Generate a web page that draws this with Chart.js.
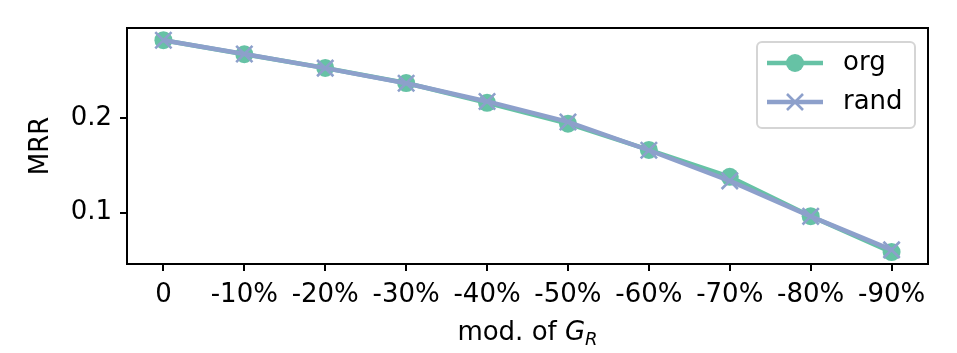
<!DOCTYPE html>
<html>
<head>
<meta charset="utf-8">
<script src="https://cdn.jsdelivr.net/npm/chart.js@4.4.0/dist/chart.umd.min.js"></script>
<style>
    html, body { margin: 0; padding: 0; background: #fff; }
    #wrap { width: 957px; height: 353px; }
</style>
</head>
<body>
<div id="wrap"><canvas id="chart" width="957" height="353"></canvas></div>
<script>
const categories = ['0', '-10%', '-20%', '-30%', '-40%', '-50%', '-60%', '-70%', '-80%', '-90%'];
const orgValues = [0.2826, 0.2677, 0.2532, 0.2372, 0.2163, 0.1942, 0.1663, 0.1379, 0.0961, 0.0581];
const randValues = [0.2826, 0.2680, 0.2530, 0.2370, 0.2177, 0.1960, 0.1660, 0.1336, 0.0960, 0.0605];
const yTickValues = [0.1, 0.2];

const GREEN = '#66c2a5';
const PURPLE = '#8da0cb';
const FONT = "'DejaVu Sans', sans-serif";

function toPoints(values) {
    return values.map((v, i) => ({ x: i, y: v }));
}

// frame, axis titles and an in-plot legend
const decorations = {
    id: 'decorations',
    afterDraw(chart) {
        const ctx = chart.ctx;
        const a = chart.chartArea;
        ctx.save();

        ctx.strokeStyle = '#000';
        ctx.lineWidth = 2;
        ctx.strokeRect(a.left, a.top, a.right - a.left, a.bottom - a.top);

        ctx.fillStyle = '#000';
        ctx.font = '26px ' + FONT;

        // y title
        ctx.save();
        ctx.translate(41, (a.top + a.bottom) / 2);
        ctx.rotate(-Math.PI / 2);
        ctx.textAlign = 'center';
        ctx.textBaseline = 'middle';
        ctx.fillText('MRR', 0, 0);
        ctx.restore();

        // x title: mod. of G_R
        const base = 340;
        const part1 = 'mod. of ';
        ctx.font = '26px ' + FONT;
        const w1 = ctx.measureText(part1).width;
        ctx.font = 'italic 26px ' + FONT;
        const w2 = ctx.measureText('G').width;
        ctx.font = 'italic 18px ' + FONT;
        const w3 = ctx.measureText('R').width;
        let x = (a.left + a.right) / 2 - (w1 + w2 + w3) / 2;
        ctx.textAlign = 'left';
        ctx.textBaseline = 'alphabetic';
        ctx.font = '26px ' + FONT;
        ctx.fillText(part1, x, base);
        x += w1;
        ctx.font = 'italic 26px ' + FONT;
        ctx.fillText('G', x, base);
        x += w2;
        ctx.font = 'italic 18px ' + FONT;
        ctx.fillText('R', x, base + 5);

        // legend
        const lx = 757, ly = 42, lw = 158, lh = 86;
        ctx.beginPath();
        ctx.roundRect(lx, ly, lw, lh, 5);
        ctx.fillStyle = 'rgba(255,255,255,0.8)';
        ctx.fill();
        ctx.strokeStyle = '#d5d5d5';
        ctx.lineWidth = 2;
        ctx.stroke();

        const rows = [
            { label: 'org', color: GREEN, y: 63, style: 'circle' },
            { label: 'rand', color: PURPLE, y: 102, style: 'crossRot' }
        ];
        rows.forEach(r => {
            ctx.strokeStyle = r.color;
            ctx.lineWidth = 4.5;
            ctx.beginPath();
            ctx.moveTo(767, r.y);
            ctx.lineTo(823, r.y);
            ctx.stroke();
            if (r.style === 'circle') {
                ctx.fillStyle = r.color;
                ctx.beginPath();
                ctx.arc(795, r.y, 9, 0, Math.PI * 2);
                ctx.fill();
            } else {
                ctx.lineWidth = 2.6;
                ctx.beginPath();
                ctx.moveTo(787, r.y - 8);
                ctx.lineTo(803, r.y + 8);
                ctx.moveTo(787, r.y + 8);
                ctx.lineTo(803, r.y - 8);
                ctx.stroke();
            }
            ctx.fillStyle = '#000';
            ctx.font = '26px ' + FONT;
            ctx.textAlign = 'left';
            ctx.textBaseline = 'middle';
            ctx.fillText(r.label, 843, r.y);
        });

        ctx.restore();
    }
};

const ctx = document.getElementById('chart').getContext('2d');
new Chart(ctx, {
    type: 'line',
    data: {
        datasets: [
            {
                label: 'org',
                data: toPoints(orgValues),
                borderColor: GREEN,
                backgroundColor: GREEN,
                borderWidth: 4.5,
                pointStyle: 'circle',
                pointRadius: 9,
                pointBorderWidth: 0,
                pointBackgroundColor: GREEN,
                tension: 0,
                order: 2
            },
            {
                label: 'rand',
                data: toPoints(randValues),
                borderColor: PURPLE,
                backgroundColor: PURPLE,
                borderWidth: 4.5,
                pointStyle: 'crossRot',
                pointRadius: 11.5,
                pointBorderWidth: 2.6,
                pointBorderColor: PURPLE,
                tension: 0,
                order: 1
            }
        ]
    },
    options: {
        responsive: false,
        animation: false,
        devicePixelRatio: 1,
        layout: { padding: { left: 0, right: 29, top: 28, bottom: 0 } },
        plugins: {
            legend: { display: false },
            tooltip: { enabled: false }
        },
        scales: {
            x: {
                type: 'linear',
                min: -0.45,
                max: 9.45,
                afterBuildTicks: scale => {
                    scale.ticks = categories.map((c, i) => ({ value: i }));
                },
                afterFit: scale => { scale.height = 89; },
                ticks: {
                    autoSkip: false,
                    maxRotation: 0,
                    padding: 9,
                    color: '#000',
                    font: { family: FONT, size: 26 },
                    callback: v => categories[v]
                },
                grid: {
                    drawOnChartArea: false,
                    drawTicks: true,
                    tickLength: 7,
                    color: '#000',
                    lineWidth: 2
                },
                border: { display: false }
            },
            y: {
                min: 0.0455,
                max: 0.2955,
                afterBuildTicks: scale => {
                    scale.ticks = yTickValues.map(v => ({ value: v }));
                },
                afterFit: scale => { scale.width = 127; },
                ticks: {
                    padding: 8,
                    color: '#000',
                    font: { family: FONT, size: 26 },
                    callback: v => v.toFixed(1)
                },
                grid: {
                    drawOnChartArea: false,
                    drawTicks: true,
                    tickLength: 7,
                    color: '#000',
                    lineWidth: 2
                },
                border: { display: false }
            }
        }
    },
    plugins: [decorations]
});
</script>
</body>
</html>
